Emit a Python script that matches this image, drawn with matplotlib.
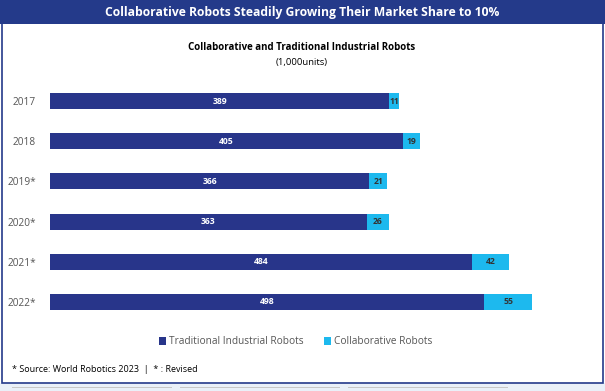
import matplotlib
matplotlib.use("Agg")
import matplotlib.pyplot as plt
from matplotlib.patches import Rectangle

years = ["2017", "2018", "2019*", "2020*", "2021*", "2022*"]
traditional = [389, 405, 366, 363, 484, 498]
collaborative = [11, 19, 21, 26, 42, 55]

NAVY = "#28358A"
CYAN = "#1DB9EE"
HEAD = "#243A8A"

plt.rcParams['font.family'] = ['Open Sans', 'DejaVu Sans']

W, H = 605, 391
fig = plt.figure(figsize=(W / 100, H / 100), dpi=100)
fig.patch.set_facecolor("white")

# background bottom strip
fig.add_artist(Rectangle((0, 0), 1, 1 - 383 / H, transform=fig.transFigure,
                         facecolor="#EAF0F8", edgecolor="none", zorder=0))
for x0, x1 in [(12, 172), (180, 340), (348, 508)]:
    fig.add_artist(Rectangle((x0 / W, 1 - 388 / H), (x1 - x0) / W, 1.5 / H,
                             transform=fig.transFigure, facecolor="#C8C8C8",
                             edgecolor="none", zorder=1))
# box border
fig.add_artist(Rectangle((1.5 / W, 1 - 383 / H), (W - 3.5) / W, (383 - 20) / H,
                         transform=fig.transFigure, facecolor="white",
                         edgecolor=HEAD, linewidth=1.2, zorder=1))
# header band
fig.add_artist(Rectangle((0, 1 - 24 / H), 1, 24 / H, transform=fig.transFigure,
                         facecolor=HEAD, edgecolor="none", zorder=2))
fig.text(0.5, 1 - 12.5 / H, "Collaborative Robots Steadily Growing Their Market Share to 10%",
         ha="center", va="center", color="white", fontsize=8.7, fontweight="bold", zorder=3)

fig.text(302 / W, 1 - 48 / H, "Collaborative and Traditional Industrial Robots",
         ha="center", va="center", fontsize=7.0, fontweight="bold", color="black")
fig.text(302 / W, 1 - 62 / H, "(1,000units)", ha="center", va="center",
         fontsize=6.8, color="black")

# axes
scale = 0.872
xmax = 620
left = 50
top = 81
bottom = 322
ax = fig.add_axes([left / W, 1 - bottom / H, xmax * scale / W, (bottom - top) / H])
ax.set_facecolor("none")
ax.set_zorder(4)
ypos = list(range(len(years)))
ax.barh(ypos, traditional, height=0.4, color=NAVY, edgecolor="none",
        label="Traditional Industrial Robots")
ax.barh(ypos, collaborative, left=traditional, height=0.4, color=CYAN,
        edgecolor="none", label="Collaborative Robots")
for y, t, c in zip(ypos, traditional, collaborative):
    ax.text(t / 2, y, str(t), ha="center", va="center", color="white",
            fontsize=6.2, fontweight="bold")
    ax.text(t + c / 2, y, str(c), ha="center", va="center", color="#333333",
            fontsize=6.2, fontweight="bold")
ax.set_xlim(0, xmax)
ax.set_ylim(len(years) - 0.5, -0.5)
ax.set_yticks(ypos)
ax.set_yticklabels(years, fontsize=7.3, color="#555555")
ax.tick_params(axis="y", length=0, pad=10)
ax.set_xticks([])
for s in ax.spines.values():
    s.set_visible(False)

h, l = ax.get_legend_handles_labels()
leg = fig.legend(h, l, loc="center", bbox_to_anchor=(296 / W, 1 - 342 / H), ncol=2,
                 frameon=False, fontsize=7.3, handlelength=0.7, handleheight=0.7,
                 handletextpad=0.3, columnspacing=2.0)
for t in leg.get_texts():
    t.set_color("#555555")

fig.text(12 / W, 1 - 370 / H, "* Source: World Robotics 2023  |  * : Revised",
         ha="left", va="center", fontsize=6.5, color="black", zorder=5)

fig.savefig("out.png", dpi=100)
